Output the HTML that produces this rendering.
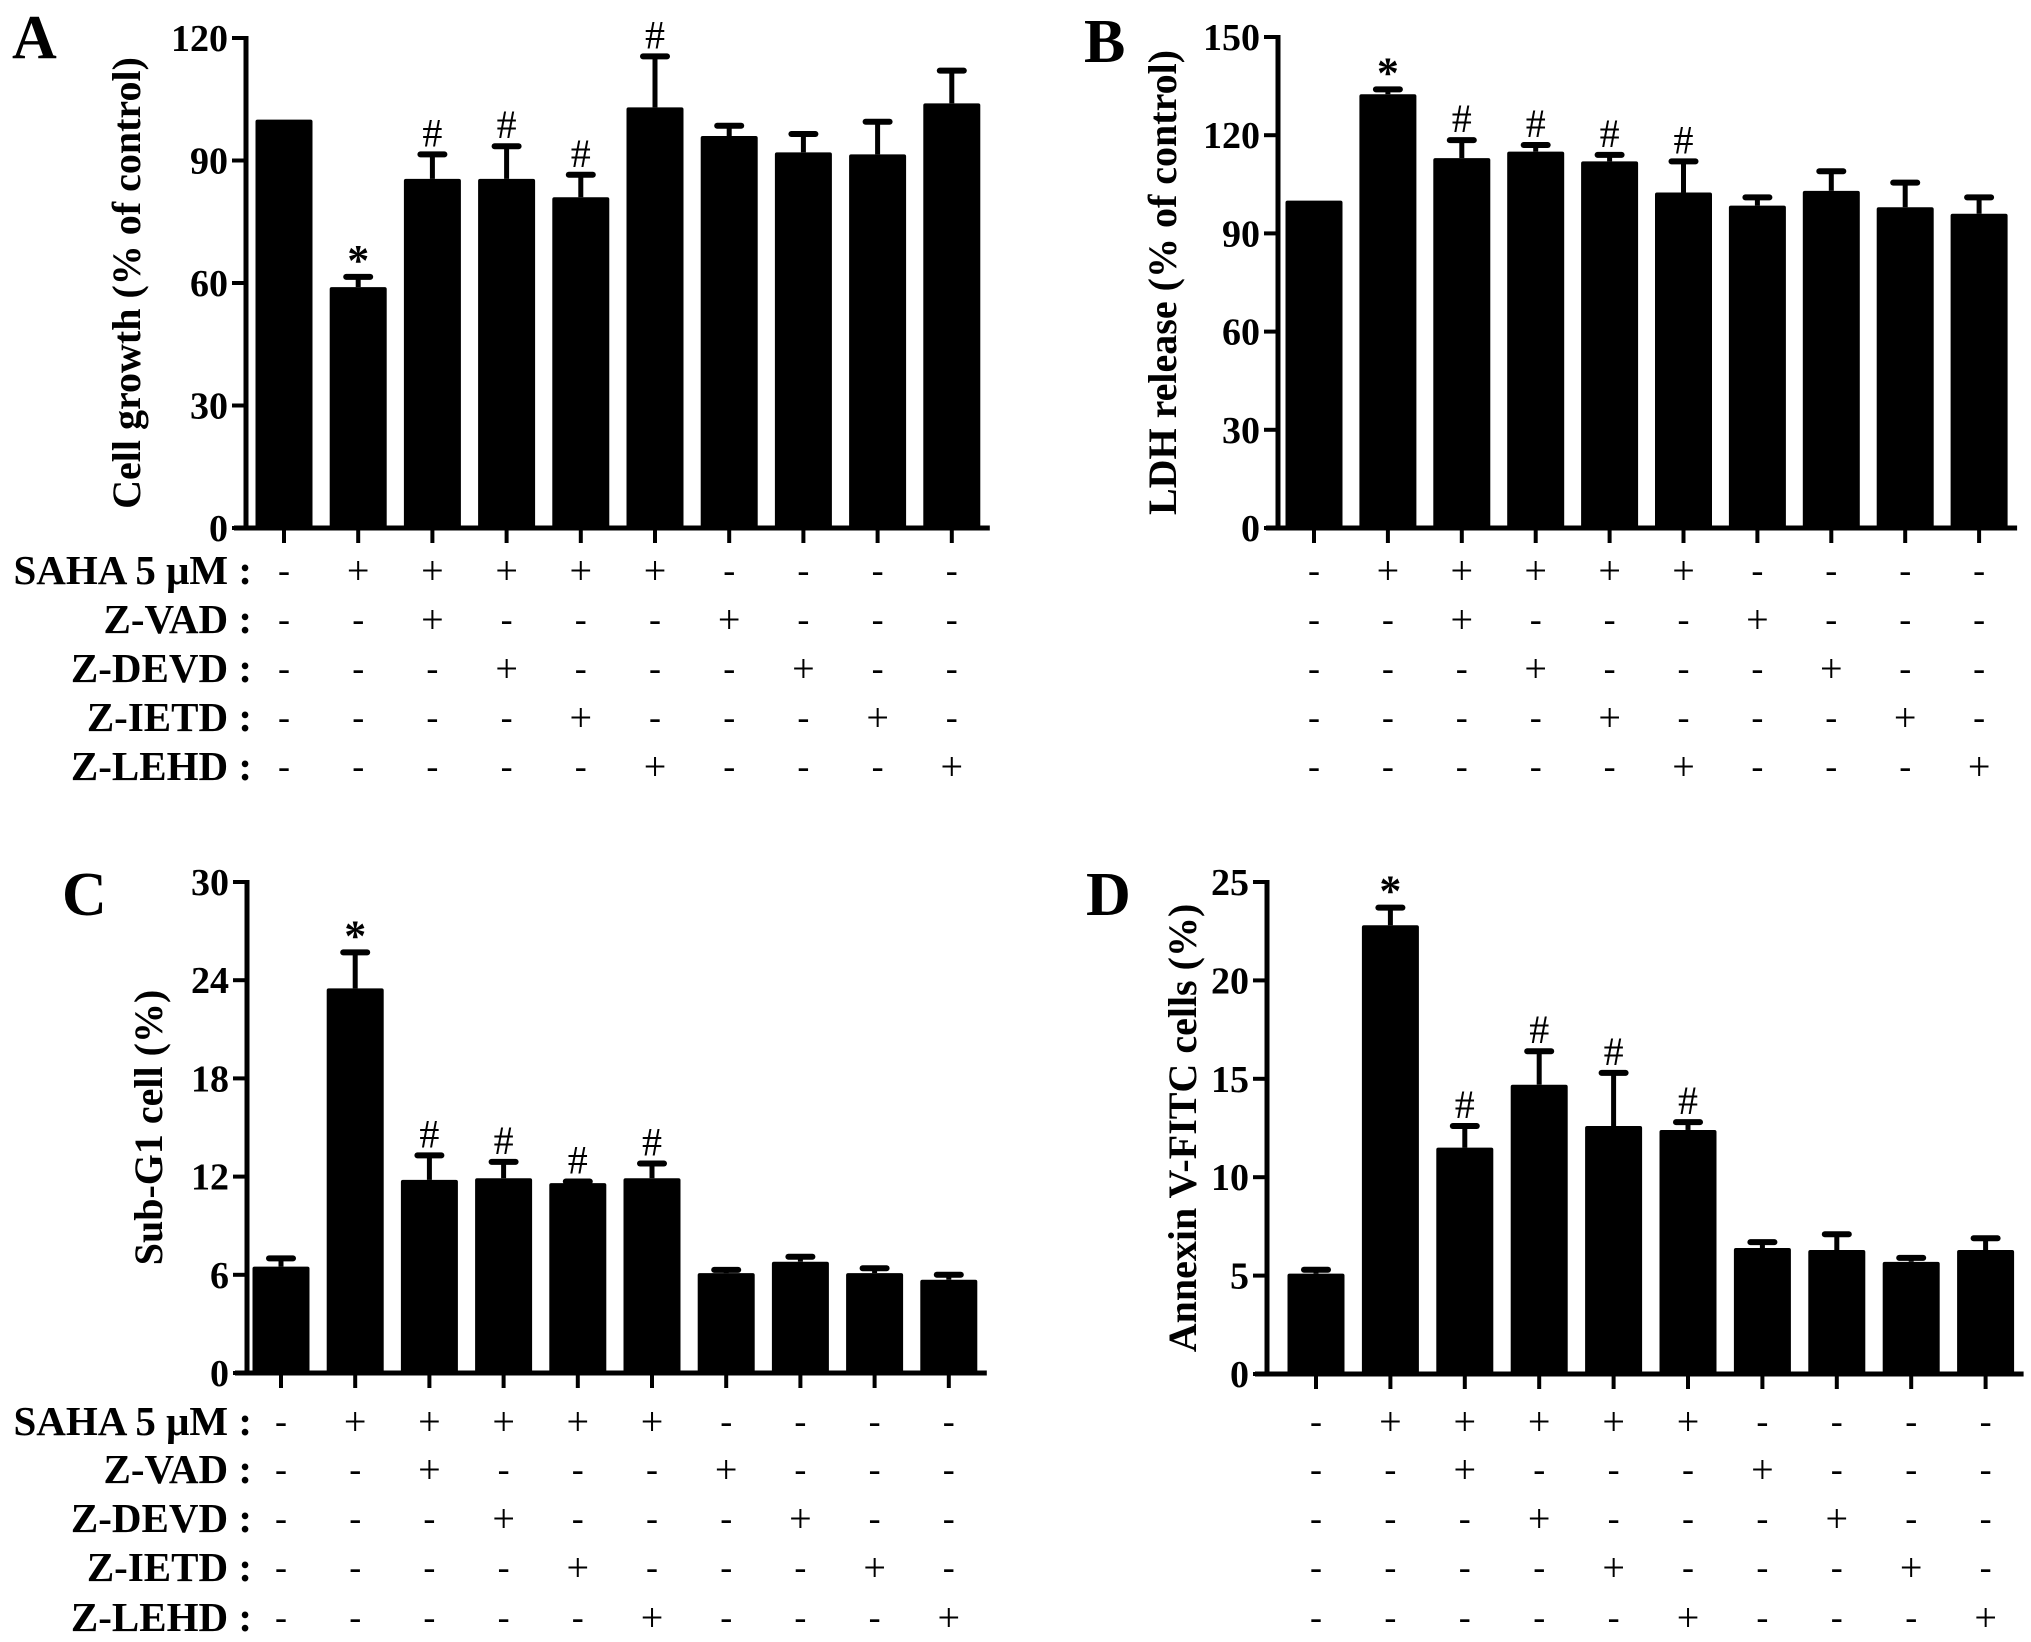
<!DOCTYPE html>
<html><head><meta charset="utf-8">
<style>
html,body{margin:0;padding:0;background:#fff;}
svg{display:block;}
text{font-family:"Liberation Serif","Times New Roman",serif;fill:#000;}
.b{font-weight:bold;}
</style></head>
<body>
<svg id="fig" width="2031" height="1642" viewBox="0 0 2031 1642" xmlns="http://www.w3.org/2000/svg"></svg>
<script>
const conditionLabels = ["SAHA 5 μM :", "Z-VAD :", "Z-DEVD :", "Z-IETD :", "Z-LEHD :"];
const conditionMatrix = [
  ["-","+","+","+","+","+","-","-","-","-"],
  ["-","-","+","-","-","-","+","-","-","-"],
  ["-","-","-","+","-","-","-","+","-","-"],
  ["-","-","-","-","+","-","-","-","+","-"],
  ["-","-","-","-","-","+","-","-","-","+"]
];
const marks = ["", "*", "#", "#", "#", "#", "", "", "", ""];
const marksA = ["", "*", "#", "#", "#", "#", "", "", "", ""];
const valuesA = [100, 59, 85.5, 85.5, 81, 103, 96, 92, 91.5, 104];
const errorsA = [0, 2.5, 6, 8, 5.5, 12.5, 2.5, 4.5, 8, 8];
const ticksA = [0, 30, 60, 90, 120];
const valuesB = [100, 132.5, 113, 115, 112, 102.5, 98.5, 103, 98, 96];
const errorsB = [0, 1.5, 5.5, 2, 2, 9.5, 2.5, 6, 7.5, 5];
const ticksB = [0, 30, 60, 90, 120, 150];
const valuesC = [6.5, 23.5, 11.8, 11.9, 11.6, 11.9, 6.1, 6.8, 6.1, 5.7];
const errorsC = [0.5, 2.2, 1.5, 1.0, 0.1, 0.9, 0.2, 0.3, 0.3, 0.3];
const ticksC = [0, 6, 12, 18, 24, 30];
const valuesD = [5.1, 22.8, 11.5, 14.7, 12.6, 12.4, 6.4, 6.3, 5.7, 6.3];
const errorsD = [0.2, 0.9, 1.1, 1.7, 2.7, 0.4, 0.3, 0.8, 0.2, 0.6];
const ticksD = [0, 5, 10, 15, 20, 25];

const NS = "http://www.w3.org/2000/svg";
const svg = document.getElementById("fig");
function el(tag, attrs, parent, txt){
  const e = document.createElementNS(NS, tag);
  for (const k in attrs) e.setAttribute(k, attrs[k]);
  if (txt !== undefined) e.textContent = txt;
  (parent || svg).appendChild(e);
  return e;
}

function panel(cfg){
  const g = el("g", {});
  
  
  const ymax = cfg.ticks[cfg.ticks.length - 1];
  const yScale = v => cfg.y0 - (v / ymax) * (cfg.y0 - cfg.yTop);
  const xScale = i => cfg.c0 + i * cfg.step;
  const bw = 57;
  const L = el("text", {x: cfg.lx, y: cfg.ly, "font-size": 62, class: "b"}, g, cfg.letter);
  
  
  const yt = el("text", {x: 0, y: 0, "font-size": 40, class: "b", "text-anchor": "middle",
    transform: `translate(${cfg.tx},${(cfg.yTop + cfg.y0) / 2}) rotate(-90)`}, g, cfg.title);
  
  
  cfg.values.forEach((v, i) => {
    const cx = xScale(i);
    const top = yScale(v);
    const r = el("rect", {x: cx - bw / 2, y: top, width: bw, height: cfg.y0 - top, fill: "#000", rx: 2}, g);
    
    
    const et = yScale(v + cfg.errors[i]);
    if (cfg.errors[i] > 0) {
      const e1 = el("line", {x1: cx, x2: cx, y1: top, y2: et, stroke: "#000", "stroke-width": 5}, g);
      
      
      const e2 = el("line", {x1: cx - 12, x2: cx + 12, y1: et, y2: et, stroke: "#000", "stroke-width": 6, "stroke-linecap": "round"}, g);
      
      
    }
    if (cfg.marks[i]) {
      const star = cfg.marks[i] === "*";
      const m = el("text", {x: cx, y: et - (star ? 2 : 8), "font-size": star ? 44 : 40, "text-anchor": "middle", class: star ? "b" : ""}, g, cfg.marks[i]);
      
      
    }
    const xt = el("line", {x1: cx, x2: cx, y1: cfg.y0, y2: cfg.y0 + 15, stroke: "#000", "stroke-width": 4}, g);
    
    
  });
  const ya = el("line", {x1: cfg.ax, x2: cfg.ax, y1: cfg.yTop - 2, y2: cfg.y0 + 2, stroke: "#000", "stroke-width": 5}, g);
  
  
  const xa = el("line", {x1: cfg.ax - 12, x2: xScale(9) + 38, y1: cfg.y0, y2: cfg.y0, stroke: "#000", "stroke-width": 5}, g);
  
  
  cfg.ticks.forEach(t => {
    const y = yScale(t);
    const tl = el("line", {x1: cfg.ax - 14, x2: cfg.ax, y1: y, y2: y, stroke: "#000", "stroke-width": 4}, g);
    
    
    const tx = el("text", {x: cfg.ax - 18, y: y + 13, "font-size": 38, class: "b", "text-anchor": "end"}, g, String(t));
    
    
  });
  conditionMatrix.forEach((row, r) => {
    const ry = cfg.rows[r];
    if (cfg.showLabels) {
      const lt = el("text", {x: 252, y: ry + 14, "font-size": 41, class: "b", "text-anchor": "end"}, g, conditionLabels[r]);
      
      
    }
    row.forEach((s, i) => {
      const t = el("text", {x: xScale(i), y: ry + (s === "+" ? 14 : 12), "font-size": s === "+" ? 40 : 36, "text-anchor": "middle"}, g, s);
      
      
    });
  });
}

const rowsTop = [570, 619, 668, 717, 766];
const rowsBot = [1421, 1469, 1518, 1567, 1617];
panel({letter: "A", lx: 12, ly: 58, title: "Cell growth (% of control)", tx: 140, ax: 246, yTop: 38, y0: 528, c0: 284, step: 74.2,
  values: valuesA, errors: errorsA, ticks: ticksA, marks: marksA, rows: rowsTop, showLabels: true});
panel({letter: "B", lx: 1084, ly: 62, title: "LDH release (% of control)", tx: 1176, ax: 1278, yTop: 37, y0: 528, c0: 1314, step: 73.9,
  values: valuesB, errors: errorsB, ticks: ticksB, marks: marks, rows: rowsTop, showLabels: false});
panel({letter: "C", lx: 62, ly: 915, title: "Sub-G1 cell (%)", tx: 162, ax: 247, yTop: 882, y0: 1373, c0: 281, step: 74.2,
  values: valuesC, errors: errorsC, ticks: ticksC, marks: marks, rows: rowsBot, showLabels: true});
panel({letter: "D", lx: 1086, ly: 915, title: "Annexin V-FITC cells (%)", tx: 1196, ax: 1267, yTop: 882, y0: 1374, c0: 1316, step: 74.4,
  values: valuesD, errors: errorsD, ticks: ticksD, marks: marks, rows: rowsBot, showLabels: false});
</script>
</body></html>
